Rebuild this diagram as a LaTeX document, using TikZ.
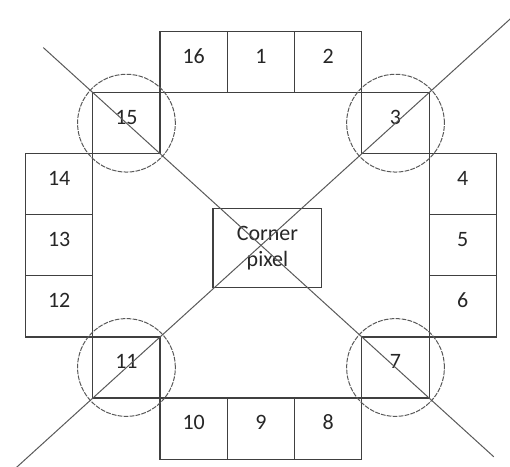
\documentclass[tikz,border=0pt]{standalone}
\usepackage{fontspec}
\setmainfont{Carlito}
\usetikzlibrary{positioning,calc}
\tikzset{
  pixcell/.style={rectangle,draw=black!75,line width=0.6pt,minimum width=33.7pt,
    minimum height=30.6pt,inner sep=0pt,text height=7pt,text depth=6pt,
    text=black!85,font=\fontsize{11}{13}\selectfont},
  centrebox/.style={rectangle,draw=black!75,line width=0.6pt,minimum width=54.5pt,
    minimum height=39.5pt,inner sep=1pt,align=center,text=black!85,
    font=\fontsize{11}{13}\selectfont},
  ring/.style={draw=black!65,line width=0.5pt,dash pattern=on 2.4pt off 0.6pt},
  diagline/.style={draw=black!65,line width=0.5pt}
}

\begin{document}
\begin{tikzpicture}[node distance=30.6pt and 33.7pt,on grid]
        % top row
        \node[pixcell] (c16) {16};
        \node[pixcell,right=of c16] (c1) {1};
        \node[pixcell,right=of c1] (c2) {2};
        % corners above
        \node[pixcell,below left=of c16] (c15) {15};
        \node[pixcell,below right=of c2] (c3) {3};
        % left column
        \node[pixcell,below left=of c15] (c14) {14};
        \node[pixcell,below=of c14] (c13) {13};
        \node[pixcell,below=of c13] (c12) {12};
        % right column
        \node[pixcell,below right=of c3] (c4) {4};
        \node[pixcell,below=of c4] (c5) {5};
        \node[pixcell,below=of c5] (c6) {6};
        % corners below
        \node[pixcell,below right=of c12] (c11) {11};
        \node[pixcell,below left=of c6] (c7) {7};
        % bottom row
        \node[pixcell,below right=of c11] (c10) {10};
        \node[pixcell,right=of c10] (c9) {9};
        \node[pixcell,right=of c9] (c8) {8};
        % centre
        \node[centrebox] (cpx) at ($(c1 |- c13)+(3.25pt,-1.25pt)$) {Corner\\pixel};

        \useasboundingbox ($(c14.west |- c16.north)+(-12.5pt,15.5pt)$)
          rectangle ($(c4.east |- c10.south)+(6.5pt,-3.5pt)$);

        % circles round the corner pixels
        \foreach \c in {c15,c3,c11,c7}
          \draw[ring] (\c.center) circle (24.5pt);

        % diagonals
        \coordinate (d1a) at ($(c15.north west)!-0.145!(c7.south east)$);
        \coordinate (d1b) at ($(c15.north west)!1.19!(c7.south east)$);
        \coordinate (d2a) at ($(c3.north east)!-0.24!(c11.south west)$);
        \coordinate (d2b) at ($(c3.north east)!1.23!(c11.south west)$);
        \draw[diagline] (d1a) -- (d1b);
        \draw[diagline] (d2a) -- (d2b);
      \end{tikzpicture}
\end{document}
